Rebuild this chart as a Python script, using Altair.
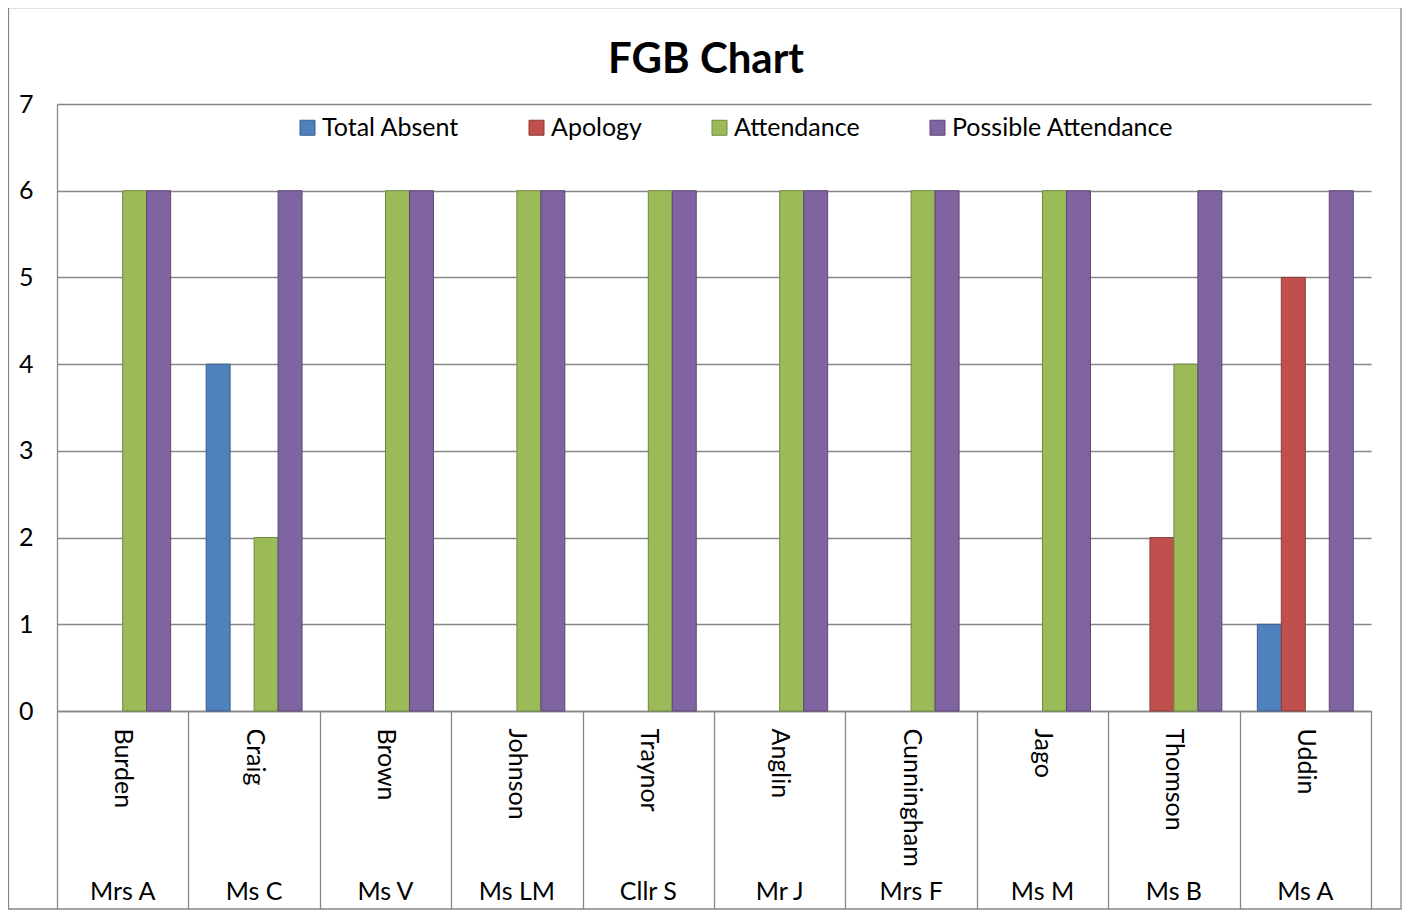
import altair as alt
import pandas as pd

surnames = ["Burden", "Craig", "Brown", "Johnson", "Traynor", "Anglin",
            "Cunningham", "Jago", "Thomson", "Uddin"]
titles = ["Mrs A", "Ms C", "Ms V", "Ms LM", "Cllr S", "Mr J", "Mrs F",
          "Ms M", "Ms B", "Ms A"]
series = ["Total Absent", "Apology", "Attendance", "Possible Attendance"]
total_absent = [0, 4, 0, 0, 0, 0, 0, 0, 0, 1]
apology = [0, 0, 0, 0, 0, 0, 0, 0, 2, 5]
attendance = [6, 2, 6, 6, 6, 6, 6, 6, 4, 0]
possible = [6, 6, 6, 6, 6, 6, 6, 6, 6, 6]
fills = ["#4F81BD", "#C0504D", "#9BBB59", "#8064A2"]
strokes = ["#3A5F8B", "#8D3B39", "#71893F", "#5C4776"]
chart_title = "FGB Chart"

rows = []
for s, vals in zip(series, [total_absent, apology, attendance, possible]):
    for name, t, v in zip(surnames, titles, vals):
        rows.append({"Surname": name, "Title": t, "Series": s, "Value": v})
df = pd.DataFrame(rows)
cats = pd.DataFrame({"Surname": surnames, "Title": titles})

FONT = "Lato"
FS = 25
GRAY = "#878787"
W, H = 1314, 607
BOTTOM = 198

xscale = alt.Scale(domain=surnames, paddingInner=0, paddingOuter=0)

bars = alt.Chart(df).transform_filter("datum.Value > 0").mark_bar(
    strokeWidth=1
).encode(
    x=alt.X("Surname:N", scale=xscale, sort=surnames,
            axis=alt.Axis(title=None, labelAngle=90, labelAlign="left",
                          labelBaseline="middle", labelPadding=17 - BOTTOM,
                          labelFontSize=FS, labelFont=FONT, labelColor="black",
                          tickBand="extent", tickSize=BOTTOM, tickColor=GRAY,
                          tickWidth=1.3, domainColor=GRAY, domainWidth=1.3,
                          labelLimit=300)),
    xOffset=alt.XOffset("Series:N",
                        scale=alt.Scale(domain=series, paddingInner=0,
                                        paddingOuter=0.74)),
    y=alt.Y("Value:Q", scale=alt.Scale(domain=[0, 7], nice=False),
            axis=alt.Axis(title=None, values=[0, 1, 2, 3, 4, 5, 6, 7],
                          ticks=False, labelPadding=24, labelFontSize=FS,
                          labelFont=FONT, labelColor="black",
                          gridColor=GRAY, gridWidth=1.3,
                          domainColor=GRAY, domainWidth=1.3)),
    color=alt.Color("Series:N", scale=alt.Scale(domain=series, range=fills),
                    legend=alt.Legend(title=None, orient="none", legendX=238,
                                      legendY=11, direction="horizontal",
                                      symbolType="square", symbolSize=225,
                                      symbolStrokeWidth=1, labelFontSize=FS,
                                      labelFont=FONT, labelColor="black",
                                      labelOffset=2, columnPadding=65,
                                      padding=0, labelLimit=400)),
    stroke=alt.Stroke("Series:N", scale=alt.Scale(domain=series, range=strokes),
                      legend=None),
)

title_row = alt.Chart(cats).mark_text(
    font=FONT, fontSize=FS, color="black", baseline="middle", align="center"
).encode(
    x=alt.X("Surname:N", scale=xscale, sort=surnames),
    y=alt.value(H + BOTTOM - 17),
    text="Title:N",
)

one = pd.DataFrame({"t": [chart_title]})

heading = alt.Chart(one).mark_text(
    font=FONT, fontSize=42, fontWeight="bold", color="black",
    baseline="alphabetic", align="center"
).encode(
    x=alt.value(W / 2 - 8), y=alt.value(-31), text="t:N",
)

border = alt.Chart(one).mark_rect(
    filled=False, stroke=GRAY, strokeWidth=1.3
).encode(
    x=alt.value(-48.5), x2=alt.value(W + 30),
    y=alt.value(-96.5), y2=alt.value(H + BOTTOM),
)

chart = alt.layer(bars, title_row, heading, border).properties(
    width=W, height=H,
    padding={"left": 49, "top": 96, "right": 31, "bottom": BOTTOM + 1},
    autosize=alt.AutoSizeParams(type="none"),
    background="white",
).configure_view(strokeWidth=0)

chart.save("out.html", embed_options={"renderer": "svg", "actions": False})
